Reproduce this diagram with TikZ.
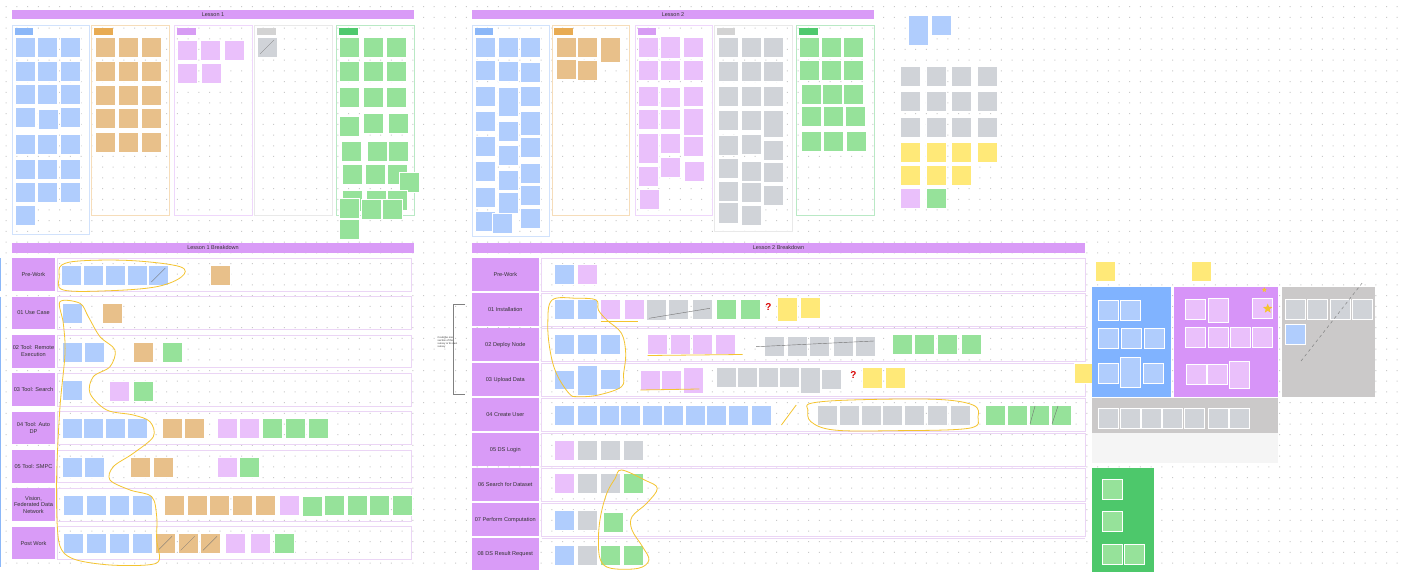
\documentclass[tikz,border=0pt]{standalone}
\usepackage{fontspec}
\setmainfont{Liberation Sans}
\usetikzlibrary{shapes.geometric}
\definecolor{cb}{HTML}{B0CDFD}
\definecolor{co}{HTML}{E8C08A}
\definecolor{cp}{HTML}{EAC0FB}
\definecolor{cg}{HTML}{D0D3D8}
\definecolor{cn}{HTML}{96E29A}
\definecolor{cy}{HTML}{FFE978}
\definecolor{hdr}{HTML}{D99BF7}
\definecolor{loopc}{HTML}{F4C430}
\definecolor{tb}{HTML}{8BB7F8}
\definecolor{to}{HTML}{E8AB52}
\definecolor{tp}{HTML}{D79CF4}
\definecolor{tg}{HTML}{D3D3D3}
\definecolor{tn}{HTML}{4FC96E}
\definecolor{dotc}{HTML}{C9C9C9}
\definecolor{bandc}{HTML}{EBD5F5}
\definecolor{pblue}{HTML}{80B3FF}
\definecolor{ppurp}{HTML}{D794F8}
\definecolor{pgray}{HTML}{CBC9C9}
\definecolor{pgreen}{HTML}{4DC86B}
\definecolor{txt}{HTML}{333333}
\newcommand\sk[4][20]{\filldraw[fill=#2,draw=white,line width=0.4] (#3,#4) rectangle ++(20,#1);}
\newcommand\dg[2]{\draw[black!55,line width=0.3] (#1+3,#2+17) -- (#1+17,#2+3);}
\tikzset{
  hd/.style={font=\fontsize{5.5}{6}\selectfont, text=txt},
  rl/.style={fill=hdr, inner sep=0pt, align=center, font=\fontsize{5.6}{6.7}\selectfont, text=txt},
  band/.style={draw=bandc, line width=0.5},
  loopl/.style={draw=loopc, line width=0.8},
}
\begin{document}
\begin{tikzpicture}[x=1pt,y=-1pt]
\useasboundingbox (0,0) rectangle (1402,572);
\fill[white] (0,0) rectangle (1402,572);
\foreach \j in {0,...,53}{\fill[dotc] \foreach \i in {0,...,131}{({5.7+10.7*\i},{6.2+10.7*\j}) rectangle ++(1,1)};}

% ================= LESSON 1 =================
\fill[hdr] (12,10) rectangle (414,19);
\node[hd] (l1) at (213,14.5) {Lesson 1};
\draw[tb!40,line width=0.6] (12.7,25.7) rectangle (89.3,234);
\draw[to!40,line width=0.6] (91.7,25.7) rectangle (169.3,215);
\draw[tp!40,line width=0.6] (174.3,25.7) rectangle (252.3,215);
\draw[tg!50,line width=0.6] (254.3,25.7) rectangle (332.7,215);
\draw[tn!40,line width=0.6] (336,25.7) rectangle (414,215);
\fill[tb] (14.7,28.3) rectangle (33.3,35);
\fill[to] (94.3,28.3) rectangle (112.7,35);
\fill[tp] (177,28.3) rectangle (196,35);
\fill[tg] (257,28.3) rectangle (276,35);
\fill[tn] (338.7,28.3) rectangle (357.7,35);
\foreach \y in {37.7,61,84.3,134,159,182.3}{\foreach \x in {14.7,37.3,60}{\sk{cb}{\x}{\y}}}
\sk{cb}{14.7}{107.7}\sk{cb}{38.3}{109.7}\sk{cb}{60}{107.7}
\sk{cb}{14.7}{205.3}
\foreach \y in {37.7,61,85,108.3,132.3}{\foreach \x in {95,117.7,141}{\sk{co}{\x}{\y}}}
\sk{cp}{177}{40.3}\sk{cp}{200}{40.3}\sk{cp}{223.7}{40.3}
\sk{cp}{177}{63.3}\sk{cp}{201}{63.3}
\sk{cg}{257}{37}\dg{257}{37}
\foreach \y in {37.7,61.7,87.3}{\foreach \x in {339.3,362.7,386}{\sk{cn}{\x}{\y}}}
\sk{cn}{339.3}{116.3}\sk{cn}{362.7}{113.7}\sk{cn}{388.3}{113.7}
\sk{cn}{341}{141.7}\sk{cn}{366.7}{141.7}\sk{cn}{387.7}{141.7}
\sk{cn}{342.3}{164.3}\sk{cn}{365}{164.3}\sk{cn}{386.7}{164.3}\sk{cn}{399}{172.7}
\sk{cn}{342.3}{190.7}\sk{cn}{365.7}{190.7}\sk{cn}{386.7}{190}
\sk{cn}{339.3}{198.3}\sk{cn}{361}{199}\sk{cn}{381.7}{199}
\sk{cn}{339.3}{219.3}

% ================= LESSON 2 =================
\fill[hdr] (471.7,10) rectangle (874,19);
\node[hd] (l2) at (673,14.5) {Lesson 2};
\draw[tb!40,line width=0.6] (472.7,25.7) rectangle (549.3,236);
\draw[to!40,line width=0.6] (552.3,25.7) rectangle (629.3,215);
\draw[tp!40,line width=0.6] (635,25.7) rectangle (712.3,215);
\draw[tg!50,line width=0.6] (714.3,25.7) rectangle (792.7,231.7);
\draw[tn!40,line width=0.6] (796,25.7) rectangle (874,215);
\fill[tb] (475,28.3) rectangle (492.7,35);
\fill[to] (554.3,28.3) rectangle (572.7,35);
\fill[tp] (637.7,28.3) rectangle (656,35);
\fill[tg] (717,28.3) rectangle (735.3,35);
\fill[tn] (799,28.3) rectangle (817.7,35);
\foreach \y in {37.7,60,86,111,136,161.7,187.3,210.7}{\sk{cb}{475}{\y}}
\foreach \y in {37.7,61.7,121.7,145,170.7,192.7}{\sk{cb}{497.7}{\y}}
\sk[29.3]{cb}{497.7}{87.3}\sk{cb}{491.7}{213.3}
\foreach \y in {37.7,62.7,86.7,137.7,163.3,185.7,208.3}{\sk{cb}{520}{\y}}
\sk[24]{cb}{520}{111}
\sk{co}{555.7}{37.7}\sk{co}{576.7}{37.7}\sk[24.7]{co}{600}{37.7}
\sk{co}{555.7}{59.3}\sk{co}{577.3}{60.7}
\foreach \y in {37.7,60.7,86,109.3,166.7}{\sk{cp}{637.7}{\y}}
\sk[30]{cp}{637.7}{133.3}\sk{cp}{639.3}{189.3}
\sk[21.7]{cp}{660}{36.7}
\foreach \y in {60.7,87.3,109.3,133.3,157.3}{\sk{cp}{660}{\y}}
\foreach \y in {37.7,60.7,86.7,136.7}{\sk{cp}{682.7}{\y}}
\sk[26.3]{cp}{682.7}{108.7}\sk{cp}{683.7}{161.7}
\foreach \y in {37.7,61,86.7,110,135,158.3,181.7,202.7}{\sk{cg}{717.7}{\y}}
\foreach \y in {37.7,61,86,110,134,161,182.7,205.3}{\sk{cg}{741}{\y}}
\foreach \y in {37.7,61,86,140.7,162.7,185.7}{\sk{cg}{763.3}{\y}}
\sk[26.7]{cg}{763.3}{110.7}
\foreach \y in {37.7,60.7}{\foreach \x in {799,820.7,843.3}{\sk{cn}{\x}{\y}}}
\sk{cn}{800.7}{84.3}\sk{cn}{821.7}{84.3}\sk{cn}{843.3}{84.3}
\sk{cn}{800.7}{106.7}\sk{cn}{822.7}{106.7}\sk{cn}{845}{106.7}
\sk{cn}{800.7}{131}\sk{cn}{823.3}{131}\sk{cn}{845.7}{131}

% top right loose stickies
\sk[30]{cb}{908.3}{15}\sk{cb}{931}{15}
\foreach \y in {66,91.7,117.3}{\foreach \x in {900,925.7,951.3,977}{\sk{cg}{\x}{\y}}}
\foreach \x in {900,925.7,951.3,977}{\sk{cy}{\x}{142.7}}
\foreach \x in {900,925.7,951.3}{\sk{cy}{\x}{165.7}}
\sk{cp}{900}{188.3}\sk{cn}{925.7}{188.3}

% ================= LESSON 1 BREAKDOWN =================
\draw[tb,line width=1] (0.7,258.3) -- (0.7,291);
\draw[tb,line width=1] (0.7,296.7) -- (0.7,567);
\fill[hdr] (12,243.3) rectangle (414,252.7);
\node[hd] (l1b) at (213,248) {Lesson 1 Breakdown};
\foreach \y in {258.3,296.7,335,373.3,411.7,450,488.3,526.7}{\draw[band] (57.7,\y) rectangle (411.7,\y+32.7);}
\node[rl,minimum width=43pt,minimum height=32.7pt] (a1) at (33.5,274.7) {Pre-Work};
\node[rl,minimum width=43pt,minimum height=32.7pt] (a2) at (33.5,313) {01 Use Case};
\node[rl,minimum width=43pt,minimum height=32.7pt] (a3) at (33.5,351.3) {02 Tool: Remote\\Execution};
\node[rl,minimum width=43pt,minimum height=32.7pt] (a4) at (33.5,389.7) {03 Tool: Search};
\node[rl,minimum width=43pt,minimum height=32.7pt] (a5) at (33.5,428) {04 Tool: Auto\\DP};
\node[rl,minimum width=43pt,minimum height=32.7pt] (a6) at (33.5,466.3) {05 Tool: SMPC};
\node[rl,minimum width=43pt,minimum height=32.7pt] (a7) at (33.5,504.7) {Vision,\\Federated Data\\Network};
\node[rl,minimum width=43pt,minimum height=32.7pt] (a8) at (33.5,543) {Post Work};
% pre-work
\foreach \x in {61,83.3,105,126.7,148.3}{\sk{cb}{\x}{265}}
\dg{148.3}{265}
\sk{co}{210}{265}
% 01
\sk{cb}{61.7}{303.3}\sk{co}{101.7}{303.3}
% 02
\sk{cb}{61.7}{341.7}\sk{cb}{84.3}{341.7}\sk{co}{132.7}{341.7}\sk{cn}{161.7}{341.7}
% 03
\sk{cb}{61.7}{380}\sk{cp}{109}{381}\sk{cn}{133.3}{381}
% 04
\foreach \x in {61.7,83.3,105,126.7}{\sk{cb}{\x}{418.3}}
\sk{co}{162.3}{418.3}\sk{co}{183.7}{418.3}
\sk{cp}{216.7}{418.3}\sk{cp}{239.3}{418.3}
\foreach \x in {262.3,285,307.7}{\sk{cn}{\x}{418.3}}
% 05
\sk{cb}{61.7}{456.7}\sk{cb}{84.3}{456.7}\sk{co}{130}{456.7}\sk{co}{153.3}{456.7}
\sk{cp}{216.7}{456.7}\sk{cn}{239.3}{456.7}
% vision
\foreach \x in {63.3,86,109,131.7}{\sk{cb}{\x}{495}}
\foreach \x in {164,186.7,209.3,232.3,255}{\sk{co}{\x}{495}}
\sk{cp}{279.3}{495}\sk{cn}{302}{496}
\foreach \x in {324.3,346.7,369,391.7}{\sk{cn}{\x}{495}}
% post work
\foreach \x in {63.3,86,109,131.7}{\sk{cb}{\x}{533.3}}
\foreach \x in {155,177.7,200}{\sk{co}{\x}{533.3}\dg{\x}{533.3}}
\sk{cp}{225}{533.3}\sk{cp}{250}{533.3}\sk{cn}{274.3}{533.3}
% loops
\draw[loopl] plot[smooth cycle, tension=0.6] coordinates {(61.7,265) (83.3,260.7) (133.3,260.7) (180,266.7) (181.7,276.7) (156.7,286.7) (110,290.7) (63.3,290) (59.3,276.7)};
\draw[loopl] plot[smooth cycle, tension=0.55] coordinates {(60,301.7) (80,303.3) (88.3,316.7) (100,336.7) (115,350) (110,366.7) (93.3,376.7) (90,393.3) (106.7,410) (133.3,415) (150,421.7) (153.3,436.7) (133.3,453.3) (113.3,466.7) (110,480) (130,490) (151.7,496.7) (156.7,516.7) (156.7,540) (159.3,560) (146.7,565) (110,565) (76.7,560) (61.7,550) (57.3,526.7) (56.7,473.3) (60,406.7) (65,353.3) (63.3,323.3)};

% ================= LESSON 2 BREAKDOWN =================
\fill[hdr] (472,243.3) rectangle (1085.3,252.7);
\node[hd] (l2b) at (778.6,248) {Lesson 2 Breakdown};
\foreach \y in {258.3,293.3,328.3,363.3,398.3,433.3,468.3,503.3}{\draw[band] (541.5,\y) rectangle (1085.3,\y+32.7);}
\draw[band] (541.5,538.3) -- (1085.3,538.3);
\node[rl,minimum width=66.6pt,minimum height=32.7pt] (b0) at (505.3,274.7) {Pre-Work};
\node[rl,minimum width=66.6pt,minimum height=32.7pt] (b1) at (505.3,309.7) {01 Installation};
\node[rl,minimum width=66.6pt,minimum height=32.7pt] (b2) at (505.3,344.7) {02 Deploy Node};
\node[rl,minimum width=66.6pt,minimum height=32.7pt] (b3) at (505.3,379.7) {03 Upload Data};
\node[rl,minimum width=66.6pt,minimum height=32.7pt] (b4) at (505.3,414.7) {04 Create User};
\node[rl,minimum width=66.6pt,minimum height=32.7pt] (b5) at (505.3,449.7) {05 DS Login};
\node[rl,minimum width=66.6pt,minimum height=32.7pt] (b6) at (505.3,484.7) {06 Search for Dataset};
\node[rl,minimum width=66.6pt,minimum height=32.7pt] (b7) at (505.3,519.7) {07 Perform Computation};
\node[rl,minimum width=66.6pt,minimum height=31.7pt] (b8) at (505.3,554.2) {08 DS Result Request};
% bracket + note
\coordinate (bt) at (465,304.3);
\coordinate (bb) at (465,394);
\draw[black!50,line width=0.4] (bt) -- (453.3,304.3) -- (453.3,394) -- (bb);
\node[align=left,inner sep=0pt,anchor=north west,font=\fontsize{2.6}{3.1}\selectfont,text=txt] (note) at (437.5,336) {Could be one\\section of the\\survey or its own\\survey};
% pre-work
\sk{cb}{554.6}{264.3}\sk{cp}{576.9}{264.3}
% 01
\sk{cb}{554.6}{299.3}\sk{cb}{576.9}{299.3}\sk{cp}{600.5}{299.3}\sk{cp}{624}{299.3}
\sk[21]{cg}{646.3}{299.3}\sk{cg}{668.6}{299.3}\sk{cg}{691.8}{299.3}
\sk{cn}{716.2}{299.3}\sk{cn}{739.8}{299.3}
\sk[24.3]{cy}{777.6}{297.3}\sk[21]{cy}{800.4}{297.3}
\draw[black!55,line width=0.4] (648.9,318.3) -- (709.9,308.3);
\draw[loopl] (600.5,321) -- (638.3,321);
\node[text=red!85!black,font=\bfseries\fontsize{10}{10}\selectfont,inner sep=0pt] (q1) at (768.4,307.2) {?};
% 02
\foreach \x in {554.6,576.9,600.5}{\sk{cb}{\x}{334.3}}
\foreach \x in {647.2,669.9,692.6,714.9}{\sk{cp}{\x}{334.3}}
\foreach \x in {764.2,786.9,809.6,832.8,855.5}{\sk{cg}{\x}{335.7}}
\foreach \x in {892.1,914,937.2,960.7}{\sk{cn}{\x}{334.3}}
\draw[black!55,line width=0.4] (756.2,346.7) -- (874,341);
\draw[loopl] (647.6,355.5) -- (742.7,354.5);
% 03
\sk[19.3]{cb}{554.6}{370}\sk[30]{cb}{576.9}{365}\sk{cb}{600.5}{369.3}
\sk{cp}{640.4}{370}\sk{cp}{661.5}{370}\sk[26]{cp}{683.4}{367.3}
\foreach \x in {716.2,737.2,758.3,779.3}{\sk{cg}{\x}{366.7}}
\sk[26]{cg}{800.4}{366.7}\sk{cg}{821.4}{369.3}
\sk[20.7]{cy}{862.2}{367}\sk[20.7]{cy}{885}{367}
\sk[20.7]{cy}{1074}{362.7}
\draw[loopl] (640.4,390) -- (699.4,389);
\node[text=red!85!black,font=\bfseries\fontsize{10}{10}\selectfont,inner sep=0pt] (q2) at (853.4,375.4) {?};
% 04
\foreach \x in {554.6,576.9,599.2,620.2,641.7,663.6,685,706.5,728.4,751.1}{\sk{cb}{\x}{405}}
\foreach \x in {817.2,839.1,861,882.4,904.3,927.5,949.8}{\sk{cg}{\x}{405}}
\foreach \x in {985.6,1007.4,1028.9,1050.8}{\sk{cn}{\x}{405}}
\draw[black!55,line width=0.4] (1030,424) -- (1035,406);
\draw[black!55,line width=0.4] (1052,424) -- (1058,406);
\coordinate (s1) at (781.4,425);
\coordinate (s2) at (796.2,405);
\draw[loopl] (s1) -- (s2);
\draw[loopl] plot[smooth cycle, tension=0.6] coordinates {(810.9,403.3) (850.9,400) (935,399.3) (972.9,405) (978,416.7) (968.7,428.3) (893,430.7) (834,430) (810.9,421.7) (807.9,410)};
% 05
\sk{cp}{554.6}{440}\foreach \x in {576.9,600,622.8}{\sk{cg}{\x}{440}}
% 06
\sk{cp}{554.6}{473.3}\sk{cg}{576.9}{473.3}\sk{cg}{600}{473.3}\sk{cn}{622.8}{473.3}
% 07
\sk{cb}{554.6}{510}\sk{cg}{576.9}{510}\sk{cn}{603.4}{511.7}
% 08
\sk{cb}{554.6}{545}\sk{cg}{576.9}{545}\sk{cn}{600}{545}\sk{cn}{622.8}{545}
\draw[loopl] plot[smooth cycle, tension=0.6] coordinates {(621.5,470) (644.6,480) (657.3,488.3) (646.7,503.3) (632,516.7) (632,530) (642.5,546.7) (648.9,560) (638.3,568.3) (611,568.3) (600.5,560) (598.4,540) (600.5,516.7) (606.8,493.3) (615.2,478.3)};
\draw[loopl] plot[smooth cycle, tension=0.6] coordinates {(552.1,300) (577.3,298.3) (596.2,300) (598.4,310) (606.8,320) (621.5,333.3) (625.7,353.3) (623.6,373.3) (621.5,386.7) (598.4,395) (577.3,396.7) (568.9,393.3) (556.3,373.3) (550,350) (547.8,323.3)};

% ================= RIGHT PANELS =================
\sk{cy}{1095}{261}\sk{cy}{1191}{261}
\fill[pblue] (1092.3,286.7) rectangle (1170.7,396.7);
\sk{cb}{1097.7}{300}\sk{cb}{1120}{300}
\sk{cb}{1097.7}{328.3}\sk{cb}{1120.7}{328.3}\sk{cb}{1144.3}{328.3}
\sk{cb}{1097.7}{363.3}\sk[30]{cb}{1120}{357.3}\sk{cb}{1142.7}{362.7}
\fill[ppurp] (1174.3,286.7) rectangle (1278.3,396.7);
\sk{cp}{1185}{299}\sk[24]{cp}{1208.3}{297.7}\sk{cp}{1251.7}{297.7}
\foreach \x in {1185,1207.7,1230,1251.7}{\sk{cp}{\x}{326.7}}
\sk{cp}{1186}{364}\sk{cp}{1207.3}{364}\sk[26.7]{cp}{1229}{361}
\node[star,star points=5,star point ratio=2.3,fill=loopc,inner sep=0pt,minimum size=5.5pt] (st1) at (1264.3,289.8) {};
\node[star,star points=5,star point ratio=2.3,fill=loopc,inner sep=0pt,minimum size=10pt] (st2) at (1267.7,308.6) {};
\fill[pgray] (1281.7,286.7) rectangle (1375,396.7);
\foreach \x in {1285,1307.3,1330,1351.7}{\sk{cg}{\x}{299}}
\sk{cb}{1285}{324}
\draw[black!55,line width=0.4,dashed] (1301,361) -- (1362.7,282.3);
\fill[pgray] (1092.3,398.3) rectangle (1278.3,432.7);
\foreach \x in {1098.3,1120,1141,1162.3,1184.3,1207.7,1229.3}{\sk{cg}{\x}{407.7}}
\fill[black!4] (1092.3,432.7) rectangle (1278.3,462.7);
\fill[pgreen] (1092.3,467.7) rectangle (1154.3,572);
\sk{cn}{1101.7}{479.3}\sk{cn}{1101.7}{511}\sk{cn}{1101.7}{544.3}\sk{cn}{1124.3}{544.3}
\end{tikzpicture}
\end{document}
